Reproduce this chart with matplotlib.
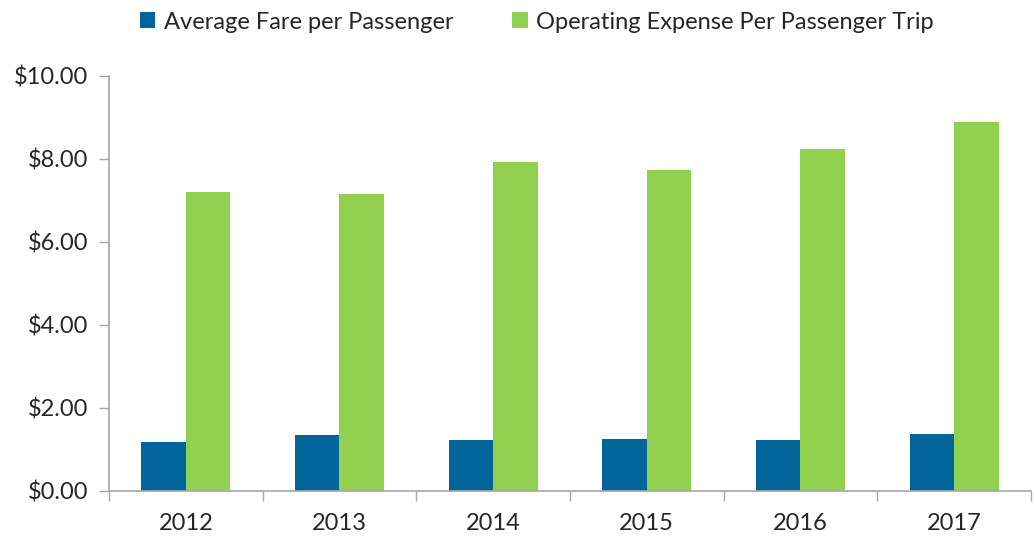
import matplotlib.pyplot as plt
import numpy as np
from matplotlib.ticker import FuncFormatter

years = ['2012', '2013', '2014', '2015', '2016', '2017']
avg_fare = [1.17, 1.34, 1.21, 1.24, 1.21, 1.37]
op_expense = [7.20, 7.14, 7.92, 7.73, 8.23, 8.89]

blue = '#006699'
green = '#92D050'
axis_grey = '#A6A6A6'
text_col = '#262626'

plt.rcParams['font.family'] = ['Lato', 'DejaVu Sans']

fig = plt.figure(figsize=(10.34, 5.4), dpi=100)
ax = fig.add_axes([0.1054, 0.0913, 0.8916, 0.7685])

x = np.arange(len(years))
w = 0.29
b1 = ax.bar(x - w / 2, avg_fare, w, color=blue, label='Average Fare per Passenger')
b2 = ax.bar(x + w / 2, op_expense, w, color=green, label='Operating Expense Per Passenger Trip')

ax.set_ylim(0, 10)
ax.set_xlim(-0.5, len(years) - 0.5)
ax.set_yticks(range(0, 11, 2))
ax.yaxis.set_major_formatter(FuncFormatter(lambda v, p: f'${v:.2f}'))

# ticks between categories, labels at centres
ax.set_xticks(np.arange(-0.5, len(years), 1.0))
ax.set_xticklabels([])
ax.set_xticks(x, minor=True)
ax.set_xticklabels(years, minor=True)
ax.tick_params(axis='x', which='major', length=7, width=1, color=axis_grey, direction='out')
ax.tick_params(axis='x', which='minor', length=0, pad=16, labelsize=17, labelcolor=text_col)
ax.tick_params(axis='y', length=7, width=1, color=axis_grey, pad=8, labelsize=17, labelcolor=text_col)

for s in ['top', 'right']:
    ax.spines[s].set_visible(False)
for s in ['left', 'bottom']:
    ax.spines[s].set_color(axis_grey)
    ax.spines[s].set_linewidth(1.2)

fig.legend(handles=[b1, b2], loc='upper center', bbox_to_anchor=(0.519, 1.018), ncol=2,
           frameon=False, fontsize=17, labelcolor=text_col, handlelength=0.65, handleheight=0.65,
           handletextpad=0.35, columnspacing=2.5)

plt.savefig('out.png', dpi=100)
